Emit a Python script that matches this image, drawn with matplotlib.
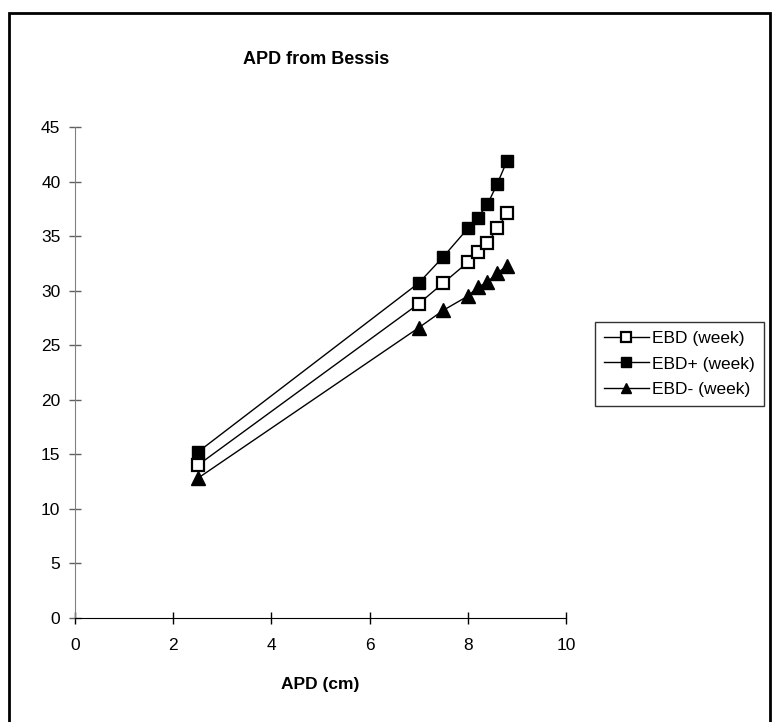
import matplotlib
matplotlib.use("Agg")
import matplotlib.pyplot as plt
from matplotlib.patches import Rectangle

plt.rcParams['font.family'] = ['Liberation Sans', 'DejaVu Sans']

# data
apd = [2.5, 7, 7.5, 8, 8.2, 8.4, 8.6, 8.8]
ebd = [14.0, 28.8, 30.7, 32.6, 33.5, 34.4, 35.7, 37.1]
ebd_plus = [15.2, 30.7, 33.1, 35.7, 36.7, 37.9, 39.8, 41.9]
ebd_minus = [12.8, 26.6, 28.2, 29.5, 30.3, 30.8, 31.6, 32.3]

fig = plt.figure(figsize=(7.72, 7.22), dpi=100)
ax = fig.add_axes([75 / 772, 104 / 722, 491 / 772, 491 / 722])

# outer chart frame
fig.patches.append(Rectangle((9 / 772, -0.02), 761 / 772, 1 - 13 / 722 + 0.02,
                             transform=fig.transFigure, fill=False,
                             edgecolor="black", linewidth=2))

ax.plot(apd, ebd, color="black", linewidth=1, marker="s", markersize=9,
        markerfacecolor="white", markeredgecolor="black", markeredgewidth=1.6,
        label="EBD (week)")
ax.plot(apd, ebd_plus, color="black", linewidth=1, marker="s", markersize=9,
        markerfacecolor="black", markeredgecolor="black", label="EBD+ (week)")
ax.plot(apd, ebd_minus, color="black", linewidth=1, marker="^", markersize=10,
        markerfacecolor="black", markeredgecolor="black", label="EBD- (week)")

ax.set_xlim(0, 10)
ax.set_ylim(0, 45)
ax.set_xticks([0, 2, 4, 6, 8, 10])
ax.set_yticks(range(0, 50, 5))
ax.tick_params(direction="inout", length=9, width=1, labelsize=12.5)
ax.tick_params(axis="x", pad=10)
ax.tick_params(axis="y", pad=6, color="#606060")

for s in ["top", "right"]:
    ax.spines[s].set_visible(False)
ax.spines["left"].set_color("#808080")
ax.spines["bottom"].set_color("black")

ax.set_xlabel("APD (cm)", fontsize=12.5, fontweight="bold", labelpad=17)
fig.text(316 / 772, 1 - 60 / 722, "APD from Bessis", fontsize=13,
         fontweight="bold", ha="center", va="center")

leg = ax.legend(loc="center left", bbox_to_anchor=(595 / 772, 1 - 364 / 722),
                bbox_transform=fig.transFigure, frameon=True, fancybox=False,
                edgecolor="black", fontsize=12.5, handlelength=2.6,
                markerscale=0.75, borderpad=0.5, labelspacing=0.6,
                handletextpad=0.2, borderaxespad=0)
leg.get_frame().set_linewidth(1)

fig.savefig("out.png", dpi=100)
